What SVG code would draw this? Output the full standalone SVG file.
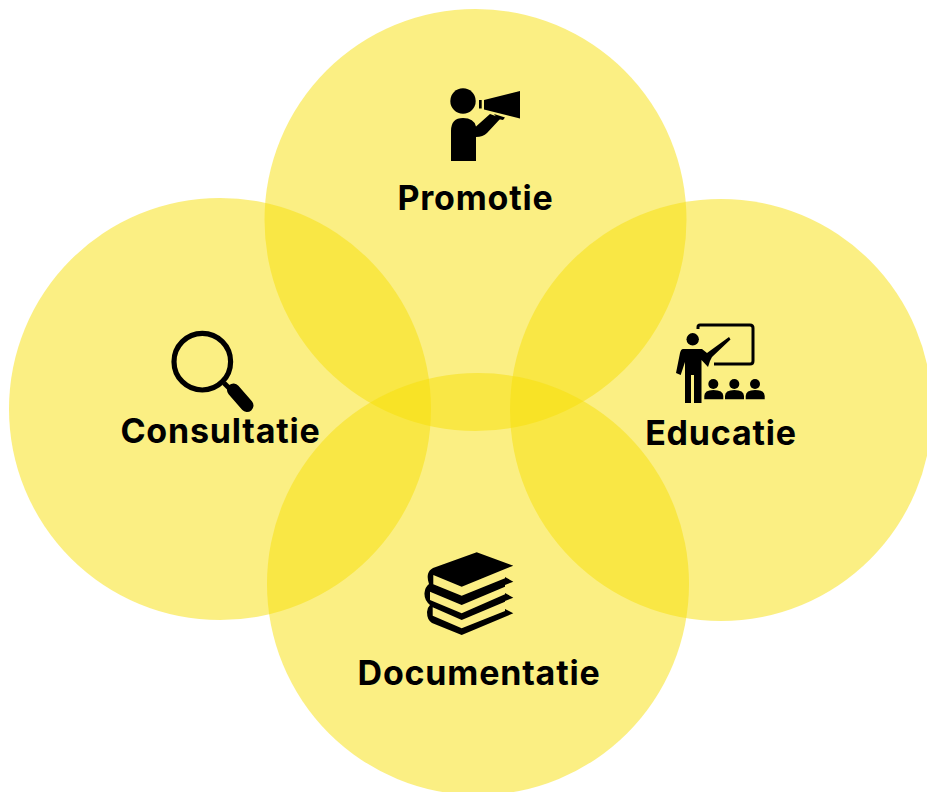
<svg xmlns="http://www.w3.org/2000/svg" width="927" height="792" viewBox="0 0 927 792">
<style>
.c{fill:#f8e008;fill-opacity:.5}
.t{font-family:"Inter","Liberation Sans",sans-serif;font-weight:700;font-size:34px;fill:#000;text-anchor:middle;letter-spacing:.8px}
.k{fill:#000}
.s{fill:none;stroke:#000}
.p{fill:#fbee85}
</style>
<rect width="927" height="792" fill="#fff"/>
<g id="promotie">
<circle class="c" cx="475.500" cy="220" r="211"/>
<circle class="k" cx="463" cy="101" r="12.700"/>
<path class="k" d="M451 161V131Q451 118 463 118Q474 118 476 126.500L490 114L501 118L487 133Q483 137 476 137V161Z"/>
<path class="k" d="M484 100L520 91V118.500L484 109.500ZM479 100H481.700V108.500H479ZM494 114L505 117.500L503 120L498 119Z"/>
<text class="t" x="475.500" y="210">Promotie</text>
</g>
<g id="consultatie">
<circle class="c" cx="220" cy="409" r="211"/>
<circle class="s" cx="202.300" cy="361.700" r="28.300" stroke-width="5.200"/>
<path class="s" d="M224 383L232 391" stroke-width="5"/>
<path class="s" d="M233.500 390L247 405.500" stroke-width="13" stroke-linecap="round"/>
<text class="t" x="220.500" y="443">Consultatie</text>
</g>
<g id="educatie">
<circle class="c" cx="721" cy="410" r="211"/>
<path class="s" d="M698 329V327Q698 325 700 325H750Q753 325 753 328V361Q753 364 750 364H714" stroke-width="3"/>
<circle class="k" cx="692.700" cy="339.300" r="6.200"/>
<path class="k" d="M683 349H702L707 353L729 337L730.500 339.500L712 357L710 361L708 367L701.500 360V403H694V375H691V403H685V362L680.700 375L676 373L680 353Q681 349 683 349Z"/>
<g id="audience">
<circle class="k" cx="713.300" cy="384" r="5"/><path class="k" d="M704.300 399.300V396Q704.300 390 713.300 390Q723.300 390 723.300 396V399.300Z"/>
<circle class="k" cx="734.300" cy="384" r="5"/><path class="k" d="M725 399.300V396Q725 390 734.300 390Q744 390 744 396V399.300Z"/>
<circle class="k" cx="755" cy="384" r="5"/><path class="k" d="M745.700 399.300V396Q745.700 390 755 390Q764.700 390 764.700 396V399.300Z"/>
</g>
<text class="t" x="721" y="444.500">Educatie</text>
</g>
<g id="documentatie">
<circle class="c" cx="478" cy="584" r="211"/>
<path class="k" d="M476.700 552.300L513.300 565.700L505 569V577L513.300 581.700L505 585V593L513.300 597.700L505 601V609L513.300 613.300L461.700 635L432 623Q427 620 427 612Q427 608 430 605Q424 600 424.500 593Q425 587 429 584Q427 578 428 574Q429 570 433 568Z"/>
<path class="p" d="M433.300 575L461.700 586.700L505 569V578.300L461.700 595.700L433.300 584.300Z"/>
<path class="p" d="M430 591.700L461.700 605L505 586.700V594.300L461.700 613.300L430 600Z"/>
<path class="p" d="M432.700 607.300L461.700 620L505 601.700V611L461.700 628.300L432.700 615.700Z"/>
<text class="t" x="479" y="685">Documentatie</text>
</g>
</svg>
